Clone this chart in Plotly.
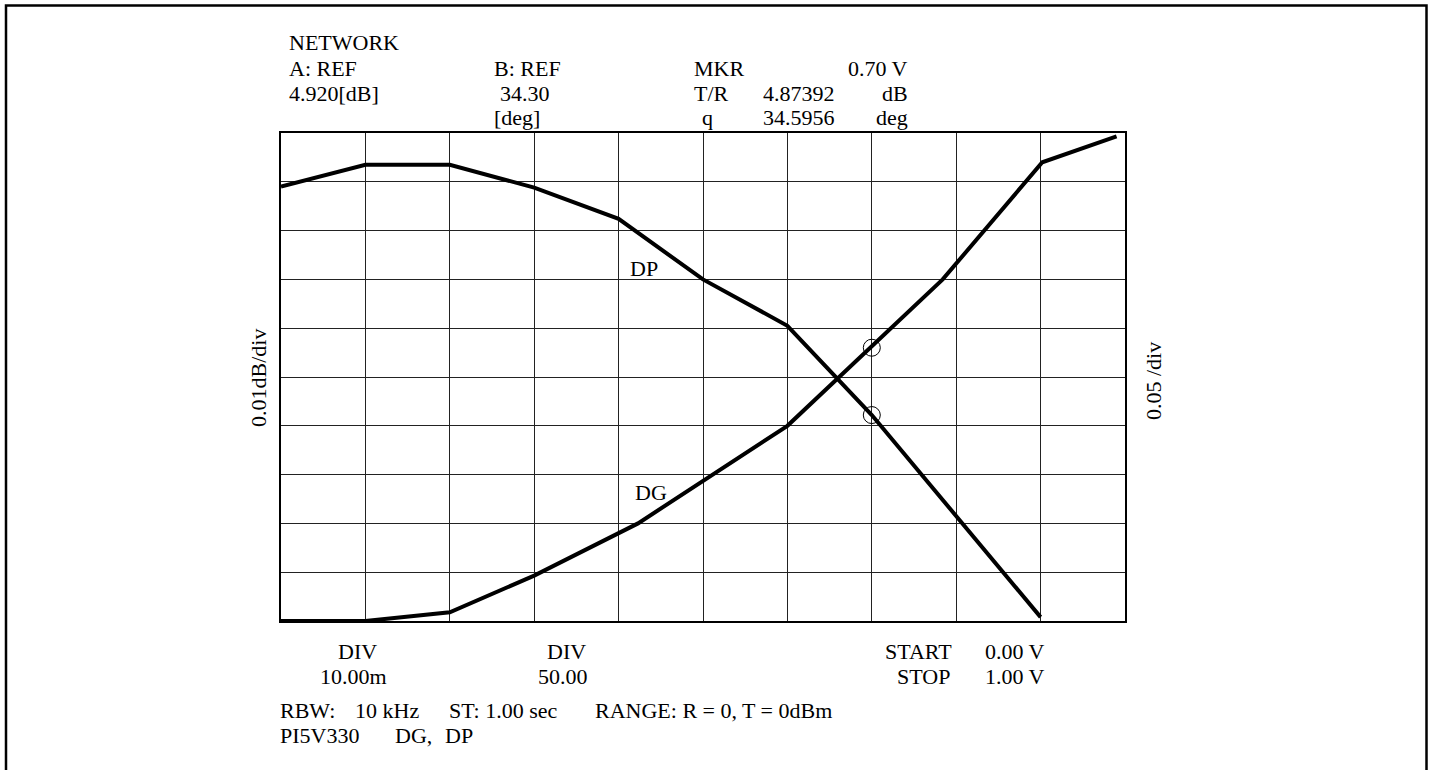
import plotly.graph_objects as go

# ---------------- data ----------------
# sweep voltage (V)
x_dg = [0.0, 0.1, 0.2, 0.3, 0.423, 0.6, 0.784, 0.902, 0.99]
# DG (dB), left scale 0.01 dB/div, reference 4.920 dB at top
dg_db = [4.8200, 4.8200, 4.8218, 4.8293, 4.8400, 4.8600, 4.8900, 4.9140, 4.9193]

x_dp = [0.0, 0.1, 0.2, 0.3, 0.4, 0.5, 0.6, 0.7, 0.9]
# DP (deg), right scale 0.05 /div
dp_deg = [34.745, 34.7675, 34.7675, 34.744, 34.712, 34.650, 34.6025, 34.511, 34.304]

# marker at 0.70 V
mkr_v = [0.70]
mkr_dg = [4.876]
mkr_dp = [34.511]

x_range = [0.0, 1.0]
dg_range = [4.82, 4.92]
dp_range = [34.30, 34.80]

# ---------------- layout geometry (page pixels) ----------------
W, H = 1433, 770
L, R, T, B = 281, 1125, 133, 621  # plot area in page pixels
FONT = "Liberation Serif, Times New Roman, serif"
FS = 22


def px(xp):
    return (xp - L) / (R - L)


def py(yp):
    return (B - yp) / (B - T)


fig = go.Figure()

fig.add_trace(go.Scatter(x=x_dg, y=dg_db, mode="lines", yaxis="y",
                         line=dict(color="black", width=4), showlegend=False,
                         hoverinfo="skip"))
fig.add_trace(go.Scatter(x=x_dp, y=dp_deg, mode="lines", yaxis="y2",
                         line=dict(color="black", width=4), showlegend=False,
                         hoverinfo="skip"))
fig.add_trace(go.Scatter(x=mkr_v, y=mkr_dg, mode="markers", yaxis="y",
                         marker=dict(symbol="circle-open", size=17,
                                     color="black", line=dict(width=1)),
                         showlegend=False, hoverinfo="skip"))
fig.add_trace(go.Scatter(x=mkr_v, y=mkr_dp, mode="markers", yaxis="y2",
                         marker=dict(symbol="circle-open", size=17,
                                     color="black", line=dict(width=1)),
                         showlegend=False, hoverinfo="skip"))

texts = [
    # header block
    ("NETWORK", 287, 42, "left"),
    ("A: REF", 287, 68, "left"),
    ("4.920[dB]", 287, 93.5, "left"),
    ("B: REF", 492, 68, "left"),
    ("34.30", 498, 93.5, "left"),
    ("[deg]", 492, 118, "left"),
    ("MKR", 692, 68, "left"),
    ("0.70 V", 910, 68, "right"),
    ("T/R", 692, 93.5, "left"),
    ("4.87392", 761, 93.5, "left"),
    ("dB", 910, 93.5, "right"),
    ("q", 707.5, 118, "center"),
    ("34.5956", 761, 118, "left"),
    ("deg", 910, 118, "right"),
    # footer block
    ("DIV", 357.5, 651.5, "center"),
    ("10.00m", 353.7, 676.5, "center"),
    ("DIV", 566.7, 651.5, "center"),
    ("50.00", 562.5, 676.5, "center"),
    ("START", 954, 651.5, "right"),
    ("STOP", 952, 676.5, "right"),
    ("0.00 V", 1047, 651.5, "right"),
    ("1.00 V", 1047, 676.5, "right"),
    ("RBW:", 277.7, 710, "left"),
    ("10 kHz", 353.3, 710, "left"),
    ("ST: 1.00 sec", 447.3, 710, "left"),
    ("RANGE: R = 0, T = 0dBm", 593.3, 710, "left"),
    ("PI5V330", 277.7, 735, "left"),
    ("DG,", 392.7, 735, "left"),
    ("DP", 443.3, 735, "left"),
    # curve labels
    ("DP", 644, 268, "center"),
    ("DG", 650.5, 493, "center"),
]

annotations = []
for t, x, y, xa in texts:
    annotations.append(dict(text=t, x=px(x), y=py(y), xref="paper", yref="paper",
                            xanchor=xa, yanchor="middle", showarrow=False,
                            font=dict(family=FONT, size=FS, color="black")))

for t, x, y in [("0.01dB/div", 258, 378), ("0.05 /div", 1153, 381)]:
    annotations.append(dict(text=t, x=px(x), y=py(y), xref="paper", yref="paper",
                            xanchor="center", yanchor="middle", textangle=-90,
                            showarrow=False,
                            font=dict(family=FONT, size=FS, color="black")))

shapes = [
    # outer frame (open at bottom, runs past the page edge)
    dict(type="rect", xref="paper", yref="paper",
         x0=px(6), x1=px(1426.5), y0=py(800), y1=py(5.5),
         line=dict(color="black", width=2.5), fillcolor="rgba(0,0,0,0)",
         layer="above"),
]

axis_common = dict(showgrid=True, gridcolor="#222", gridwidth=1,
                   zeroline=False, showticklabels=False, ticks="",
                   showline=True, linecolor="black", linewidth=2, mirror=True)

fig.update_layout(
    width=W, height=H,
    margin=dict(l=L, r=W - R, t=T, b=H - B, pad=0),
    paper_bgcolor="white", plot_bgcolor="white",
    xaxis=dict(range=x_range, dtick=0.1, tick0=0, **axis_common),
    yaxis=dict(range=dg_range, dtick=0.01, tick0=4.82, **axis_common),
    yaxis2=dict(range=dp_range, overlaying="y", side="right",
                showgrid=False, zeroline=False, showticklabels=False,
                ticks="", showline=False),
    annotations=annotations,
    shapes=shapes,
    font=dict(family=FONT, size=FS, color="black"),
)

fig.write_html("out.html",
               config={"displayModeBar": False},
               post_script="document.body.style.margin='0px';"
                           "document.body.style.overflow='hidden';")
